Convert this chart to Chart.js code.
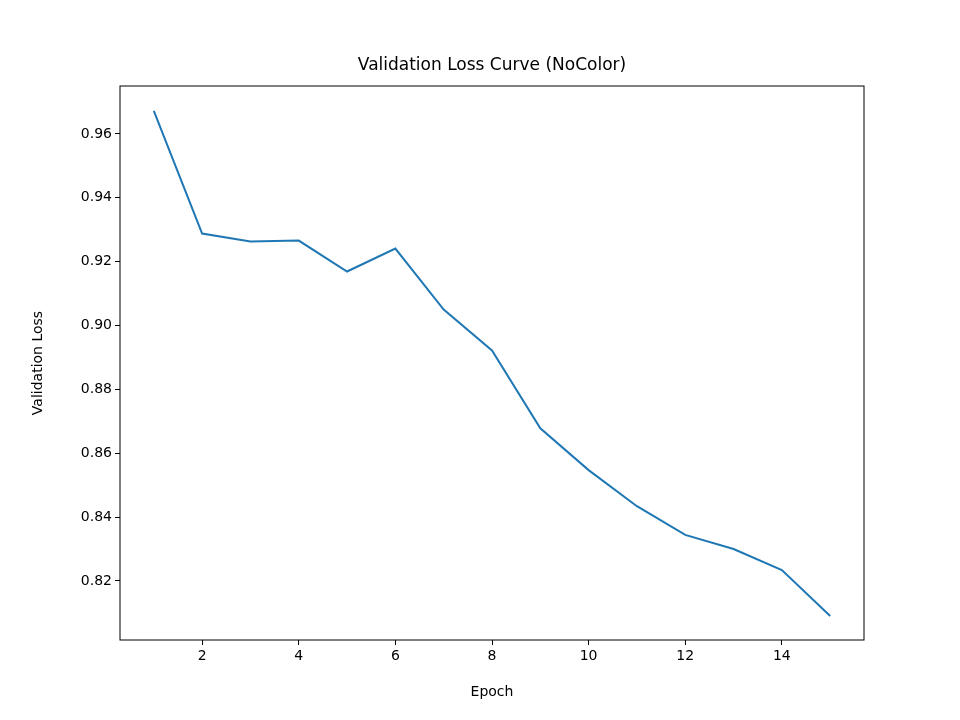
<!DOCTYPE html>
<html>
<head>
<meta charset="utf-8">
<script src="https://cdn.jsdelivr.net/npm/chart.js@4"></script>
<style>
html,body{margin:0;padding:0;background:#fff;}
#wrap{width:960px;height:720px;}
</style>
</head>
<body>
<div id="wrap"><canvas id="lossChart" width="960" height="720"></canvas></div>
<script>
// values
var epochs = [1,2,3,4,5,6,7,8,9,10,11,12,13,14,15];
var valLoss = [0.9672,0.9288,0.9263,0.9266,0.9169,0.9241,0.9050,0.8922,0.8678,0.8547,0.8434,0.8344,0.8300,0.8234,0.8090];
var xTicks = [2,4,6,8,10,12,14];
var yTicks = [0.82,0.84,0.86,0.88,0.90,0.92,0.94,0.96];
var titleText = 'Validation Loss Curve (NoColor)';
var xLabel = 'Epoch';
var yLabel = 'Validation Loss';

Chart.defaults.font.family = "'DejaVu Sans', sans-serif";
Chart.defaults.color = '#000';

// box round the plot area plus titles placed relative to it, matplotlib style
var frame = {
    id: 'frame',
    afterDraw: function(chart) {
        var a = chart.chartArea, c = chart.ctx;
        var cx = (a.left + a.right) / 2, cy = (a.top + a.bottom) / 2;
        c.save();
        c.strokeStyle = '#000';
        c.lineWidth = 1;
        c.strokeRect(a.left, a.top, a.right - a.left, a.bottom - a.top);
        c.fillStyle = '#000';
        c.textAlign = 'center';
        c.textBaseline = 'middle';
        c.font = "17px 'DejaVu Sans', sans-serif";
        c.fillText(titleText, cx, a.top - 20);
        c.font = "14px 'DejaVu Sans', sans-serif";
        c.fillText(xLabel, cx, a.bottom + 52);
        c.translate(a.left - 82, cy);
        c.rotate(-Math.PI / 2);
        c.fillText(yLabel, 0, 0);
        c.restore();
    }
};

var pts = epochs.map(function(e, i) { return {x: e, y: valLoss[i]}; });

new Chart('lossChart', {
    type: 'line',
    data: {
        datasets: [{
            data: pts,
            borderColor: '#1f77b4',
            borderWidth: 2,
            pointRadius: 0,
            tension: 0,
            fill: false
        }]
    },
    options: {
        responsive: false,
        animation: false,
        layout: {padding: {top: 86, right: 96, bottom: 0, left: 0}},
        plugins: {
            legend: {display: false},
            tooltip: {enabled: false},
            title: {display: false}
        },
        scales: {
            x: {
                type: 'linear',
                min: 0.3,
                max: 15.7,
                afterBuildTicks: function(s) { s.ticks = xTicks.map(function(v) { return {value: v}; }); },
                afterFit: function(s) { s.height = 80; },
                grid: {drawOnChartArea: false, tickLength: 5, color: '#000'},
                border: {display: false},
                ticks: {font: {size: 14}, padding: 3}
            },
            y: {
                min: 0.8015,
                max: 0.975,
                afterBuildTicks: function(s) { s.ticks = yTicks.map(function(v) { return {value: v}; }); },
                afterFit: function(s) { s.width = 120; },
                grid: {drawOnChartArea: false, tickLength: 5, color: '#000'},
                border: {display: false},
                ticks: {font: {size: 14}, padding: 3, callback: function(v) { return v.toFixed(2); }}
            }
        }
    },
    plugins: [frame]
});
</script>
</body>
</html>
